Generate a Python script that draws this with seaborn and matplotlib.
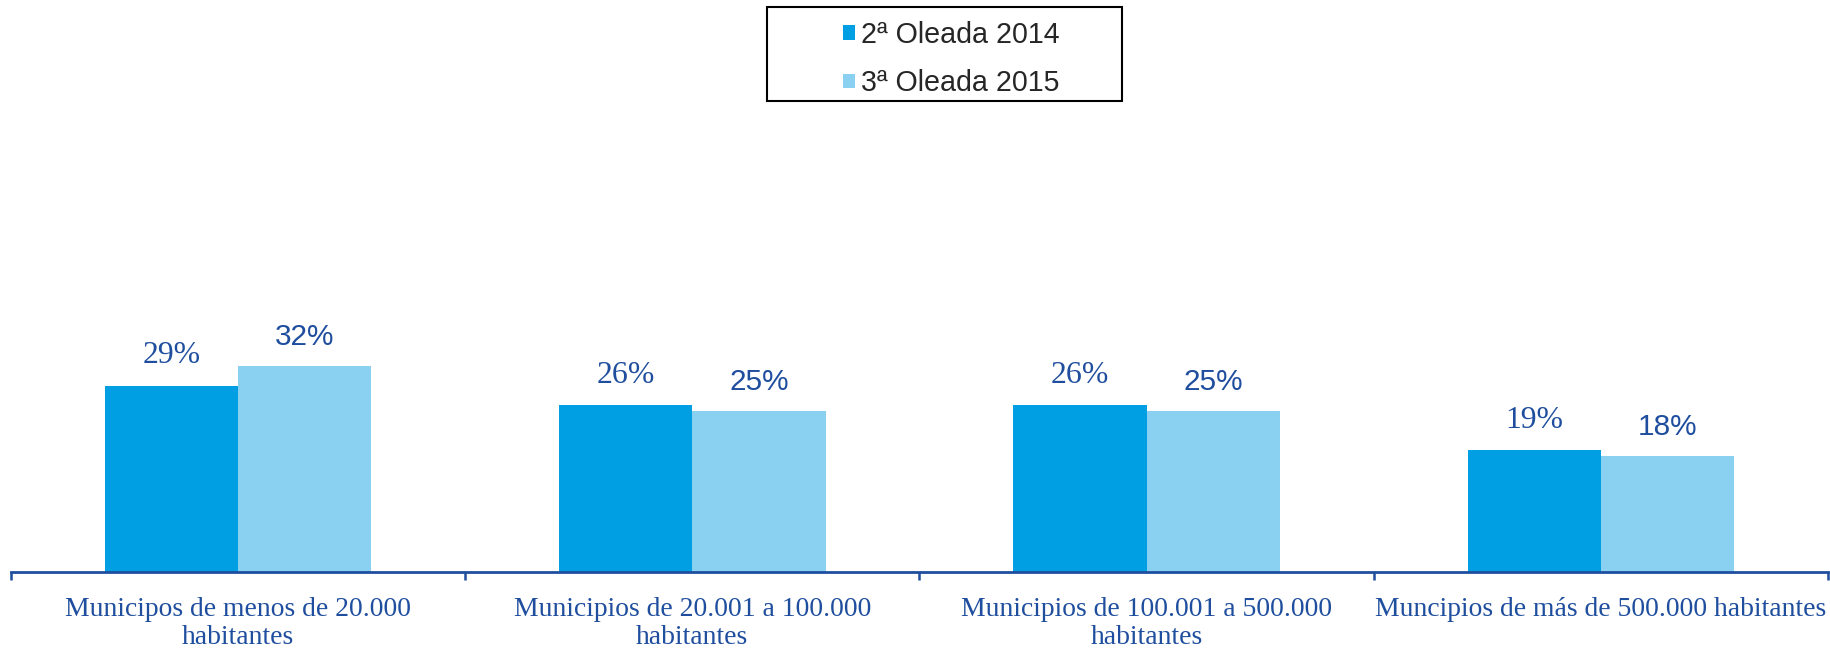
import pandas as pd
import matplotlib.pyplot as plt
import seaborn as sns
from matplotlib.patches import Patch, Rectangle

# --- Datos ---
categorias = [
    "Municipos de menos de 20.000\nhabitantes",
    "Municipios de 20.001 a 100.000\nhabitantes",
    "Municipios de 100.001 a 500.000\nhabitantes",
    "Muncipios de más de 500.000 habitantes",
]
series = ["2ª Oleada 2014", "3ª Oleada 2015"]
oleada_2014 = [29, 26, 26, 19]
oleada_2015 = [32, 25, 25, 18]

COLORES = ["#009FE3", "#8AD1F1"]
AZUL_TEXTO = "#1F4E9E"

df = pd.DataFrame({
    "categoria": categorias * 2,
    "oleada": [series[0]] * 4 + [series[1]] * 4,
    "valor": oleada_2014 + oleada_2015,
})

sns.set_style("white")
plt.rcParams["font.family"] = ["Liberation Serif", "DejaVu Serif"]

fig = plt.figure(figsize=(18.31, 6.51), dpi=100)
ax = fig.add_axes([11 / 1831, 79 / 651, 1817 / 1831, 450 / 651])

sns.barplot(data=df, x="categoria", y="valor", hue="oleada", palette=COLORES,
            width=0.587, saturation=1, legend=False, ax=ax, order=categorias,
            linewidth=0)

ax.set_xlim(-0.5, len(categorias) - 0.5)
ax.set_ylim(0, 70)

# etiquetas de valor: la primera serie en serif, la segunda en sans
for i, cont in enumerate(ax.containers):
    if i == 0:
        ax.bar_label(cont, fmt="{:.0f}%", padding=11, color=AZUL_TEXTO,
                     fontsize=22.9, family="Liberation Serif")
    else:
        ax.bar_label(cont, fmt="{:.0f}%", padding=11, color=AZUL_TEXTO,
                     fontsize=21.4, family="Liberation Sans")

# eje x: marcas en los limites, etiquetas en el centro
ax.set_xticks([i - 0.5 for i in range(len(categorias) + 1)])
ax.set_xticklabels([])
ax.set_xticks(range(len(categorias)), minor=True)
ax.set_xticklabels(categorias, minor=True, fontsize=19.9, color=AZUL_TEXTO,
                   linespacing=1.17)
ax.tick_params(axis="x", which="major", bottom=True, length=6, width=1.8,
               color=AZUL_TEXTO, direction="out")
ax.tick_params(axis="x", which="minor", bottom=True, length=0, pad=18)
ax.set_yticks([])
ax.set_xlabel("")
ax.set_ylabel("")

for s in ["top", "left", "right"]:
    ax.spines[s].set_visible(False)
ax.spines["bottom"].set_color(AZUL_TEXTO)
ax.spines["bottom"].set_linewidth(2)

# leyenda con marco propio
handles = [Patch(facecolor=c, edgecolor="none") for c in COLORES]
fig.legend(handles, series, loc="center left", bbox_to_anchor=(843 / 1831, 1 - 59 / 651),
           frameon=False, borderpad=0, borderaxespad=0, handlelength=0.42,
           handleheight=0.42, handletextpad=0.22, labelspacing=0.72,
           prop={"family": "Liberation Sans", "size": 20.6})
fig.add_artist(Rectangle((767 / 1831, 1 - 101 / 651), 355 / 1831, 94 / 651,
                         transform=fig.transFigure, fill=False,
                         edgecolor="black", linewidth=1.5))

plt.savefig("out.png", dpi=100)
